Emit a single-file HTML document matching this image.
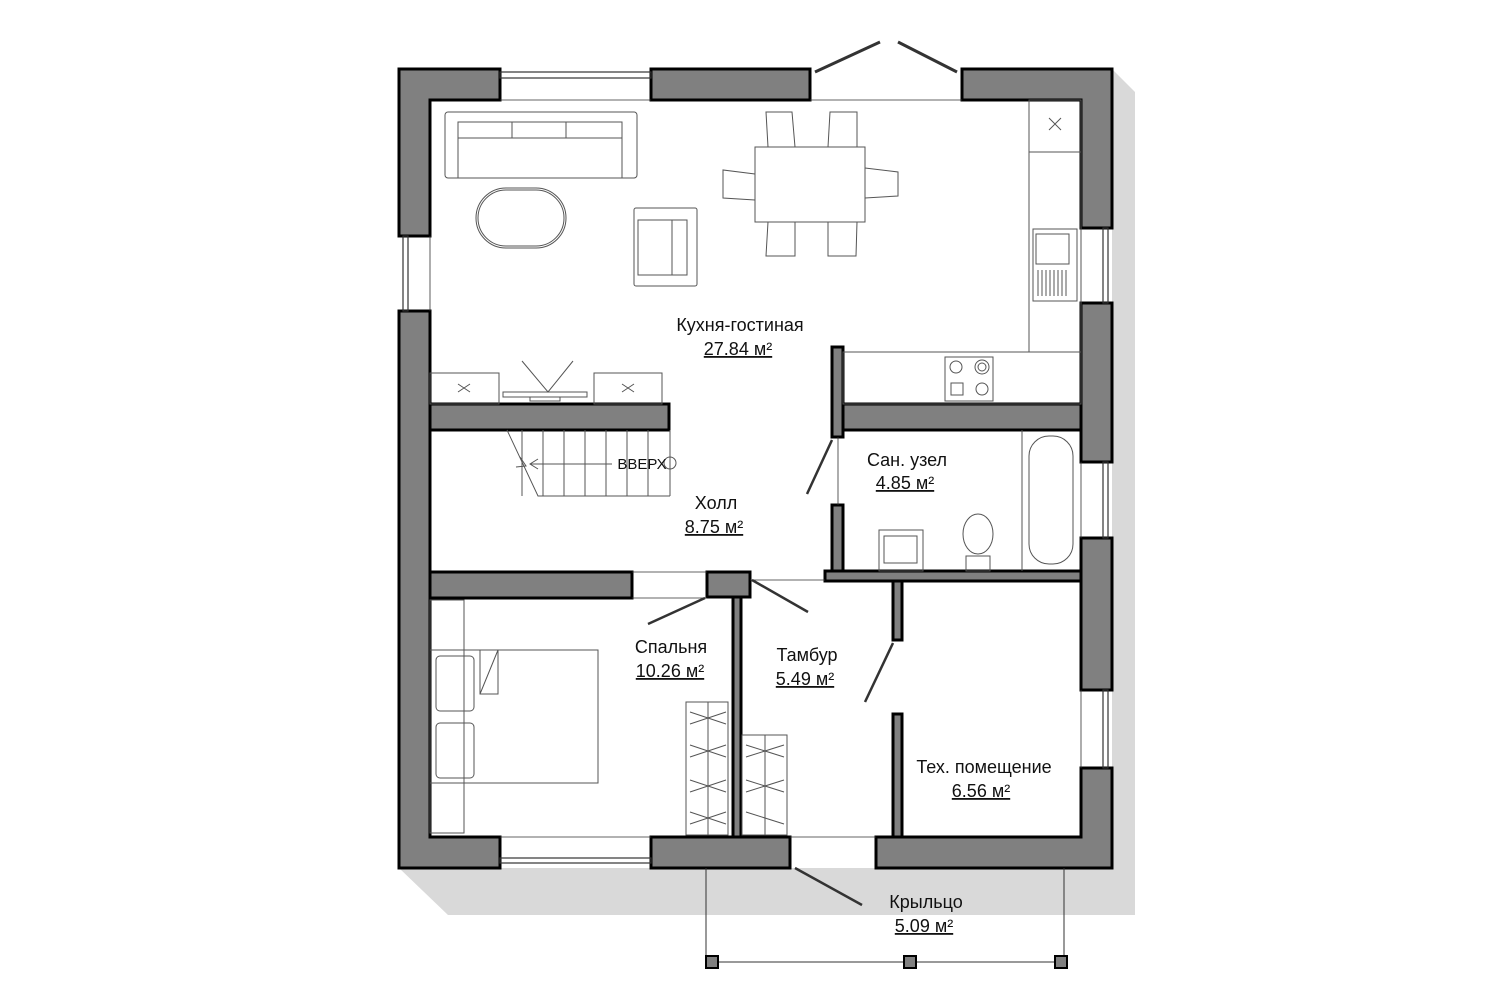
<!DOCTYPE html>
<html><head><meta charset="utf-8"><style>
html,body{margin:0;padding:0;background:#fff}
svg{display:block}
text{font-family:"Liberation Sans","DejaVu Sans",sans-serif;fill:#111}
</style></head><body>
<svg width="1508" height="1003" viewBox="0 0 1508 1003" xmlns="http://www.w3.org/2000/svg">
<polygon points="1112,69 1135,92 1135,915 448,915 399,868 1112,868" fill="#d9d9d9"/>
<rect x="399" y="69" width="713" height="799" fill="#fff"/>
<g fill="#808080" stroke="#000" stroke-width="3">
<polygon points="399,69 500,69 500,100 430,100 430,236 399,236"/>
<rect x="651" y="69" width="159" height="31"/>
<polygon points="962,69 1112,69 1112,228 1081,228 1081,100 962,100"/>
<polygon points="399,311 430,311 430,837 500,837 500,868 399,868"/>
<rect x="1081" y="303" width="31" height="159"/>
<rect x="1081" y="538" width="31" height="152"/>
<polygon points="1081,768 1112,768 1112,868 876,868 876,837 1081,837"/>
<rect x="651" y="837" width="139" height="31"/>
<rect x="430" y="404" width="239" height="26"/>
<rect x="843" y="404" width="238" height="26"/>
<rect x="832" y="347" width="11" height="90"/>
<rect x="832" y="505" width="11" height="72"/>
<rect x="430" y="572" width="202" height="26"/>
<rect x="707" y="572" width="43" height="25"/>
<rect x="733" y="597" width="8" height="240"/>
<rect x="825" y="571" width="256" height="10"/>
<rect x="893" y="581" width="9" height="59"/>
<rect x="893" y="714" width="9" height="123"/>
</g>
<g stroke="#333" stroke-width="1.2" fill="none">
<rect x="500" y="72" width="151" height="6"/><line x1="500" y1="100" x2="651" y2="100" stroke-width="0.8"/>
<rect x="500" y="858" width="151" height="5"/><line x1="500" y1="837" x2="651" y2="837" stroke-width="0.8"/>
<rect x="403" y="236" width="5" height="75"/><line x1="430" y1="236" x2="430" y2="311" stroke-width="0.8"/>
<rect x="1103" y="228" width="5" height="75"/><line x1="1081" y1="228" x2="1081" y2="303" stroke-width="0.8"/>
<rect x="1103" y="462" width="5" height="76"/><line x1="1081" y1="462" x2="1081" y2="538" stroke-width="0.8"/>
<rect x="1103" y="690" width="5" height="78"/><line x1="1081" y1="690" x2="1081" y2="768" stroke-width="0.8"/>
<line x1="810" y1="100" x2="962" y2="100" stroke-width="0.8"/>
<line x1="815" y1="72" x2="880" y2="42" stroke-width="3"/>
<line x1="957" y1="72" x2="898" y2="42" stroke-width="3"/>
<line x1="832" y1="440" x2="807" y2="494" stroke-width="2.5"/>
<line x1="705" y1="598" x2="648" y2="624" stroke-width="2.5"/>
<line x1="752" y1="580" x2="808" y2="612" stroke-width="2.5"/>
<line x1="893" y1="643" x2="865" y2="702" stroke-width="2.5"/>
<line x1="795" y1="868" x2="862" y2="905" stroke-width="2.5"/>
<line x1="632" y1="598" x2="707" y2="598" stroke-width="0.8"/>
<line x1="632" y1="572" x2="707" y2="572" stroke-width="0.8"/>
<line x1="750" y1="580" x2="825" y2="580" stroke-width="0.8"/>
<line x1="790" y1="837" x2="876" y2="837" stroke-width="0.8"/>
<line x1="838" y1="437" x2="838" y2="505" stroke-width="0.8"/>
<polyline points="706,868 706,962 1064,962 1064,868" stroke-width="1"/>
</g>
<g fill="#808080" stroke="#000" stroke-width="2">
<rect x="706" y="956" width="12" height="12"/><rect x="904" y="956" width="12" height="12"/><rect x="1055" y="956" width="12" height="12"/>
</g>
<g stroke="#555" stroke-width="1" fill="none">
<rect x="445" y="112" width="192" height="66" rx="3"/>
<rect x="458" y="122" width="164" height="16"/>
<line x1="512" y1="122" x2="512" y2="138"/><line x1="566" y1="122" x2="566" y2="138"/>
<line x1="458" y1="138" x2="458" y2="178"/><line x1="622" y1="138" x2="622" y2="178"/>
<rect x="476" y="188" width="90" height="60" rx="30"/>
<rect x="478" y="190" width="86" height="56" rx="28"/>
<rect x="634" y="208" width="63" height="78" rx="2"/>
<rect x="638" y="220" width="49" height="55"/><line x1="672" y1="220" x2="672" y2="275"/>
<rect x="755" y="147" width="110" height="75"/>
<path d="M768 147 L766 112 L792 112 L795 147 M828 147 L830 112 L857 112 L857 147"/>
<path d="M768 222 L766 256 L795 256 L795 222 M828 222 L828 256 L856 256 L857 222"/>
<path d="M755 174 L723 170 L723 198 L755 200 M865 168 L898 172 L898 196 L865 198"/>
<rect x="1029" y="100" width="52" height="52"/>
<path d="M1049 118 L1061 130 M1061 118 L1049 130"/>
<rect x="1029" y="152" width="52" height="200"/>
<rect x="1033" y="229" width="44" height="72"/>
<rect x="1036" y="234" width="33" height="30"/>
<path d="M1038 270 V296 M1042 270 V296 M1046 270 V296 M1050 270 V296 M1054 270 V296 M1058 270 V296 M1062 270 V296 M1066 270 V296"/>
<rect x="843" y="352" width="238" height="52"/>
<rect x="945" y="357" width="48" height="44"/>
<circle cx="956" cy="367" r="6"/><circle cx="982" cy="367" r="7"/><circle cx="982" cy="367" r="4"/><circle cx="982" cy="389" r="6"/><rect x="951" y="383" width="12" height="12"/>
<rect x="430" y="373" width="69" height="31"/><rect x="594" y="373" width="68" height="31"/>
<path d="M458 384 L470 392 M470 384 L458 392 M622 384 L634 392 M634 384 L622 392"/>
<rect x="503" y="392" width="84" height="5"/><rect x="530" y="397" width="30" height="4"/>
<path d="M522 361 L548 392 L573 361"/>
<path d="M507 430 L538 496 L670 496"/>
<path d="M522 430 V496 M543 430 V496 M564 430 V496 M585 430 V496 M606 430 V496 M627 430 V496 M648 430 V496 M670 430 V496"/>
<path d="M530 464 L612 464 M538 459 L530 464 L538 469 M520 457 L526 466 L516 467"/>
<circle cx="670" cy="463" r="6"/>
<line x1="1022" y1="430" x2="1022" y2="571"/>
<rect x="1029" y="436" width="44" height="128" rx="20"/>
<rect x="879" y="530" width="44" height="41"/><rect x="884" y="536" width="33" height="27"/>
<ellipse cx="978" cy="534" rx="15" ry="20"/><rect x="966" y="556" width="24" height="15"/>
<rect x="430" y="600" width="34" height="233"/>
<rect x="430" y="650" width="168" height="133"/>
<rect x="436" y="656" width="38" height="55" rx="4"/><rect x="436" y="723" width="38" height="55" rx="4"/>
<path d="M480 650 L498 650 L498 694 L480 694 Z M480 694 L498 650"/>
<rect x="686" y="702" width="42" height="133"/>
<rect x="742" y="735" width="45" height="100"/>
<path d="M708 702 V835 M765 735 V835"/>
<path d="M690 712 L726 724 M690 724 L726 712 M690 745 L726 757 M690 757 L726 745 M690 780 L726 792 M690 792 L726 780 M690 812 L726 824 M690 824 L726 812 M746 745 L784 757 M746 757 L784 745 M746 780 L784 792 M746 792 L784 780 M746 812 L784 824"/>
</g>
<g font-size="18" text-anchor="middle">
<text x="740" y="331">Кухня-гостиная</text>
<text x="738" y="355" text-decoration="underline" fill="#333">27.84 м²</text>
<text x="716" y="509">Холл</text>
<text x="714" y="533" text-decoration="underline" fill="#333">8.75 м²</text>
<text x="907" y="466">Сан. узел</text>
<text x="905" y="489" text-decoration="underline" fill="#333">4.85 м²</text>
<text x="671" y="653">Спальня</text>
<text x="670" y="677" text-decoration="underline" fill="#333">10.26 м²</text>
<text x="807" y="661">Тамбур</text>
<text x="805" y="685" text-decoration="underline" fill="#333">5.49 м²</text>
<text x="984" y="773">Тех. помещение</text>
<text x="981" y="797" text-decoration="underline" fill="#333">6.56 м²</text>
<text x="926" y="908">Крыльцо</text>
<text x="924" y="932" text-decoration="underline" fill="#333">5.09 м²</text>
<text x="642" y="469" font-size="15">ВВЕРХ</text>
</g>
</svg>
</body></html>
